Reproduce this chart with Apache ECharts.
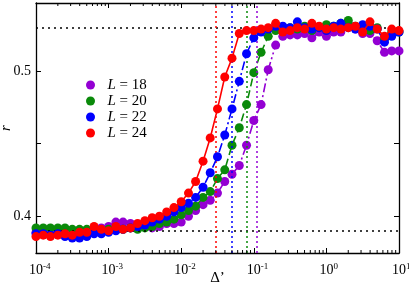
<!DOCTYPE html>
<html><head><meta charset="utf-8">
<script src="https://cdn.jsdelivr.net/npm/echarts@6/dist/echarts.min.js"></script>
<style>html,body{margin:0;padding:0;background:#fff}#c{width:409px;height:286px}</style>
</head><body><div id="c"></div>
<script>
const xs = [1.00e-4,1.26e-4,1.58e-4,2.00e-4,2.51e-4,3.16e-4,3.98e-4,5.01e-4,6.31e-4,7.94e-4,
 1.00e-3,1.26e-3,1.58e-3,2.00e-3,2.51e-3,3.16e-3,3.98e-3,5.01e-3,6.31e-3,7.94e-3,
 1.00e-2,1.26e-2,1.58e-2,2.00e-2,2.51e-2,3.16e-2,3.98e-2,5.01e-2,6.31e-2,7.94e-2,
 1.00e-1,1.26e-1,1.58e-1,2.00e-1,2.51e-1,3.16e-1,3.98e-1,5.01e-1,6.31e-1,7.94e-1,
 1.00,1.26,1.58,2.00,2.51,3.16,3.98,5.01,6.31,7.94,10.0];
const rL18 = [0.389,0.389,0.389,0.390,0.389,0.389,0.390,0.390,0.391,0.392,
 0.393,0.396,0.396,0.395,0.394,0.393,0.392,0.393,0.395,0.395,
 0.396,0.400,0.404,0.408,0.411,0.416,0.424,0.429,0.435,0.449,
 0.466,0.477,0.501,0.518,0.524,0.525,0.525,0.526,0.523,0.527,
 0.524,0.527,0.527,0.533,0.529,0.526,0.526,0.521,0.513,0.514,0.514];
const rL20 = [0.392,0.392,0.392,0.392,0.392,0.391,0.391,0.391,0.390,0.390,
 0.391,0.391,0.391,0.392,0.391,0.392,0.393,0.395,0.396,0.398,
 0.401,0.404,0.407,0.413,0.417,0.426,0.432,0.449,0.461,0.477,
 0.499,0.513,0.524,0.528,0.528,0.530,0.529,0.531,0.528,0.530,
 0.532,0.531,0.533,0.535,0.531,0.530,0.528,0.530,0.522,0.527,0.527];
const rL22 = [0.388,0.388,0.387,0.388,0.386,0.385,0.385,0.386,0.388,0.388,
 0.389,0.390,0.391,0.392,0.393,0.394,0.396,0.398,0.400,0.403,
 0.406,0.409,0.413,0.420,0.430,0.441,0.456,0.474,0.493,0.512,
 0.523,0.527,0.529,0.531,0.531,0.530,0.534,0.530,0.529,0.530,
 0.528,0.531,0.533,0.530,0.529,0.532,0.531,0.529,0.520,0.524,0.527];
const rL24 = [0.386,0.387,0.386,0.387,0.388,0.387,0.389,0.389,0.393,0.391,
 0.390,0.393,0.391,0.392,0.395,0.397,0.399,0.400,0.403,0.406,
 0.410,0.416,0.424,0.438,0.454,0.474,0.496,0.509,0.526,0.528,
 0.528,0.529,0.530,0.533,0.527,0.528,0.530,0.529,0.533,0.531,
 0.529,0.530,0.529,0.530,0.531,0.527,0.534,0.529,0.524,0.529,0.528];
const seriesNames = ['L = 18','L = 20','L = 22','L = 24'];
const seriesColors = ['#9400d3','#0a8a0a','#0000ff','#ff0000'];
const seriesDash = [[9,3,2,3,2,3],[8,4],[9,3,2,3],'solid'];
const criticalX = [0.108, 0.076, 0.053, 0.034];
const hLines = [0.530, 0.3862];
const yLabelVals = [0.4, 0.5];
const yTickVals = [0.4, 0.45, 0.5];
const allR = [rL18, rL20, rL22, rL24];

const FONT = 'Liberation Serif, DejaVu Serif, serif';
const YMIN = 0.3747, YMAX = 0.547;
const minorX = [];
for (let d = -4; d < 1; d++) for (let m = 2; m <= 9; m++) minorX.push(m * Math.pow(10, d));

const chart = echarts.init(document.getElementById('c'), null, {renderer: 'canvas'});
const xAxisBase = {
  type: 'log', logBase: 10, min: 1e-4, max: 10, splitNumber: 5,
  axisLine: {lineStyle: {color: '#000', width: 1.3}},
  axisTick: {inside: true, length: 5, lineStyle: {color: '#000', width: 1}},
  splitLine: {show: false}, minorTick: {show: false}
};
const yAxisBase = {
  type: 'value', min: YMIN, max: YMAX,
  axisLine: {show: true, lineStyle: {color: '#000', width: 1.3}},
  axisTick: {inside: true, length: 5, customValues: yTickVals, lineStyle: {color: '#000', width: 1}},
  splitLine: {show: false}
};
const series = [];
allR.forEach((arr, i) => {
  series.push({
    type: 'line', name: seriesNames[i], data: xs.map((x, k) => [x, arr[k]]),
    symbol: 'circle', symbolSize: 9, showSymbol: true,
    itemStyle: {color: seriesColors[i]},
    lineStyle: {color: seriesColors[i], width: 1.6, type: seriesDash[i]},
    animation: false, z: 3 + i,
    markLine: {
      silent: true, symbol: ['none', 'none'], label: {show: false}, animation: false,
      lineStyle: {color: seriesColors[i], type: [2, 3], width: 1.5},
      data: [{xAxis: criticalX[i]}].concat(i === 0 ? hLines.map(v => ({yAxis: v, lineStyle: {color: '#000', type: [2, 4], width: 1.5}})) : [])
    }
  });
});
series.push({
  type: 'custom', silent: true, clip: false, animation: false, z: 10,
  data: minorX.map(v => [v]),
  encode: {x: 0},
  renderItem: function (params, api) {
    const b = api.coord([api.value(0), YMIN]);
    const t = api.coord([api.value(0), YMAX]);
    return {type: 'group', children: [
      {type: 'line', shape: {x1: b[0], y1: b[1], x2: b[0], y2: b[1] - 3}, style: {stroke: '#000', lineWidth: 1}},
      {type: 'line', shape: {x1: t[0], y1: t[1], x2: t[0], y2: t[1] + 3}, style: {stroke: '#000', lineWidth: 1}}
    ]};
  }
});

chart.setOption({
  backgroundColor: '#fff',
  animation: false,
  grid: {left: 36, right: 10, top: 3, bottom: 33, containLabel: false, outerBoundsMode: 'none'},
  legend: {
    orient: 'vertical', left: 81, top: 72, itemWidth: 24, itemHeight: 9, itemGap: 0,
    icon: 'circle', selectedMode: false,
    data: seriesNames,
    formatter: n => '{i|L}' + n.slice(1),
    textStyle: {fontFamily: FONT, fontSize: 15, color: '#000', lineHeight: 16,
      rich: {i: {fontStyle: 'italic', fontFamily: FONT, fontSize: 15, lineHeight: 16}}}
  },
  xAxis: [
    Object.assign({}, xAxisBase, {
      position: 'bottom', name: 'Δ’', nameLocation: 'middle', nameGap: 18, nameMoveOverlap: false,
      nameTextStyle: {fontFamily: FONT, fontSize: 15, color: '#000'},
      axisLabel: {
        margin: 9, color: '#000',
        formatter: v => { const e = Math.round(Math.log10(v)); return '{h|' + e + '}{b|10}{e|' + e + '}'; },
        rich: {
          b: {fontFamily: FONT, fontSize: 14, color: '#000', lineHeight: 16},
          e: {fontFamily: FONT, fontSize: 9, color: '#000', verticalAlign: 'top', lineHeight: 14},
          h: {fontFamily: FONT, fontSize: 9, color: 'rgba(0,0,0,0)', lineHeight: 14}
        }
      }
    }),
    Object.assign({}, xAxisBase, {position: 'top', axisLabel: {show: false}})
  ],
  yAxis: [
    Object.assign({}, yAxisBase, {
      position: 'left', name: 'r', nameLocation: 'middle', nameGap: 22, nameRotate: 90, nameMoveOverlap: false,
      nameTextStyle: {fontFamily: FONT, fontSize: 15, fontStyle: 'italic', color: '#000'},
      axisLabel: {customValues: yLabelVals, margin: 5, color: '#000', fontFamily: FONT, fontSize: 14,
        formatter: v => v.toFixed(1)}
    }),
    Object.assign({}, yAxisBase, {position: 'right', axisLabel: {show: false}})
  ],
  series: series
});
</script></body></html>
